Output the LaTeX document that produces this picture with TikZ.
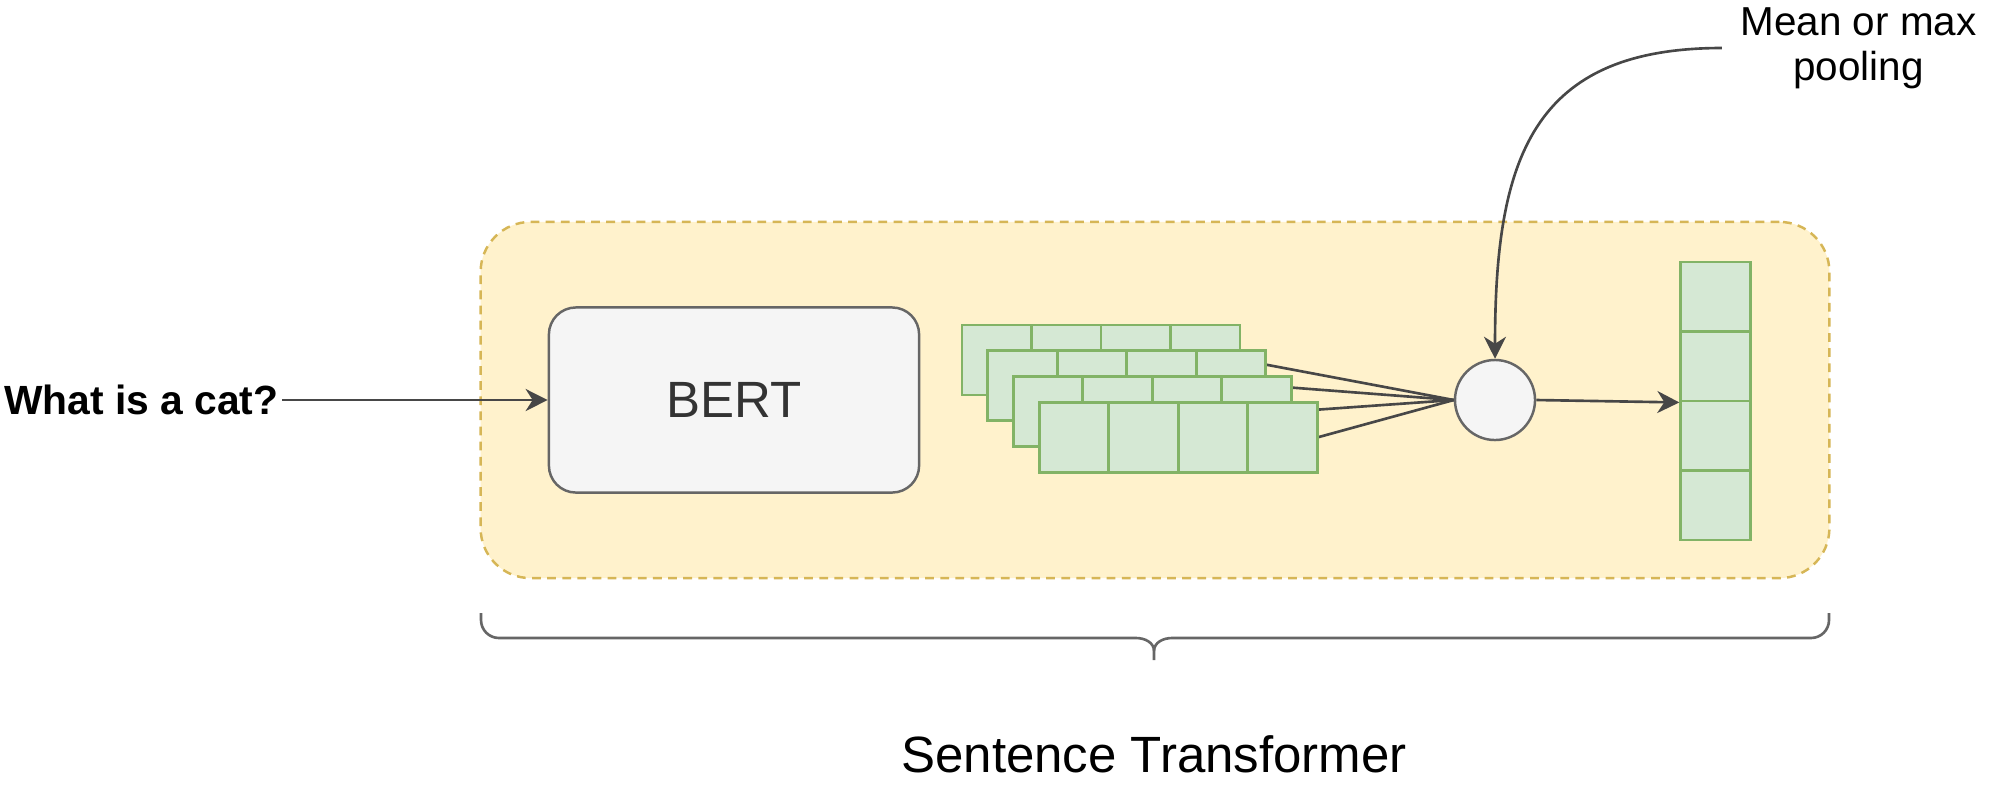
\documentclass[tikz,border=0pt]{standalone}
\usepackage{fontspec}
\setmainfont{Liberation Sans}
\usetikzlibrary{arrows.meta,positioning,calc}
\pgfdeclarelayer{background}
\pgfsetlayers{background,main}
\definecolor{stfill}{HTML}{FFF2CC}
\definecolor{stline}{HTML}{D6B656}
\definecolor{boxfill}{HTML}{F5F5F5}
\definecolor{boxline}{HTML}{666666}
\definecolor{tokfill}{HTML}{D5E8D4}
\definecolor{tokline}{HTML}{82B366}
\definecolor{edgegray}{HTML}{474747}
\tikzset{
    flow/.style={-{Stealth[length=2.2mm, width=2.2mm, inset=0.7mm]}, line width=0.75pt, edgegray},
    link/.style={line width=0.75pt, edgegray},
    cell/.style={draw=tokline, fill=tokfill, line width=0.8pt, minimum width=0.695cm, minimum height=0.70cm, inner sep=0pt},
    stbox/.style={draw=stline, fill=stfill, line width=0.7pt, dash pattern=on 2.5pt off 1.8pt, rounded corners=0.5cm}
}

\begin{document}
\begin{tikzpicture}[
            x=0.01cm, y=-0.01cm,
            encoder/.style={draw=boxline, fill=boxfill, line width=0.7pt, rounded corners=0.27cm, minimum width=3.7cm, minimum height=1.85cm, text=black!80, font=\fontsize{14.5pt}{17pt}\selectfont},
            pool/.style={circle, draw=boxline, fill=boxfill, line width=0.7pt, minimum size=0.8cm, inner sep=0pt},
            note/.style={align=center, inner xsep=0.18cm, inner ysep=0pt, font=\fontsize{11.5pt}{12.8pt}\selectfont},
            title/.style={font=\fontsize{14.5pt}{17pt}\selectfont}
        ]
            \useasboundingbox (0,0) rectangle (2000,805);

            % Input sentence and BERT
            \node[font=\bfseries\fontsize{11.6pt}{13pt}\selectfont, inner xsep=0.03cm, inner ysep=0pt, anchor=east] (question) at (282,400) {What is a cat?};
            \node[encoder] (bert) at (734,400) {BERT};

            % Token embeddings, one row per token
            \foreach \l in {1,...,4}
                \foreach \c in {1,...,4}
                    \node[cell] (t\l\c) at ({996.75+69.5*(\c-1)+25.7*(\l-1)}, {360+25.7*(\l-1)}) {};

            % Pooling
            \node[pool] (pooling) at (1495,400) {};
            \node[note] (poolnote) at (1858.5,48) {Mean or max\\pooling};

            % Sentence embedding
            \foreach \i in {1,...,4}
                \node[cell, minimum height=0.695cm] (v\i) at (1715.5, {296.75+69.5*(\i-1)}) {};

            \draw[flow] (question.east) -- (bert.west);
            \draw[flow] (pooling.east) -- (v2.south west);
            \draw[flow] (poolnote.west) .. controls +(-190,0) and +(0,-200) .. (pooling.north);

            \begin{pgfonlayer}{background}
                \node[stbox, minimum width=13.48cm, minimum height=3.56cm] (st) at (1155,400) {};
                \foreach \l in {1,...,4}
                    \draw[link] (t\l4.east) -- (pooling.west);
            \end{pgfonlayer}

            % Brace and name
            \draw[link, boxline] (481,613) -- (481,620) to[out=-90, in=180] (499,638) -- (1136,638) to[out=0, in=90] (1154,651) -- (1154,660);
            \draw[link, boxline] (1154,651) to[out=90, in=180] (1172,638) -- (1811,638) to[out=0, in=-90] (1829,620) -- (1829,613);
            \node[title, anchor=base] (stname) at (1154,772) {Sentence Transformer};

        \end{tikzpicture}
\end{document}
